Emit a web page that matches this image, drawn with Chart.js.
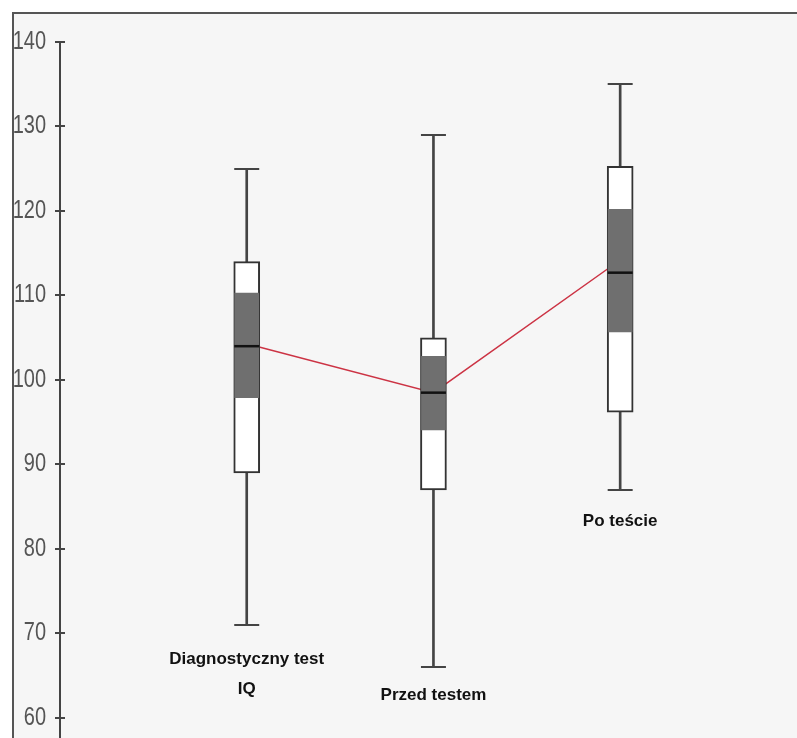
<!DOCTYPE html>
<html>
<head>
<meta charset="utf-8">
<script src="https://cdn.jsdelivr.net/npm/chart.js@4.4.0/dist/chart.umd.min.js"></script>
<style>
  html, body { margin: 0; padding: 0; background: #fff; }
  canvas { display: block; }
</style>
</head>
<body>
<canvas id="boxChart" width="797" height="738"></canvas>
<script>
const categories = [['Diagnostyczny test', 'IQ'], ['Przed testem'], ['Po teście']];
const positions = [1, 2, 3];
const whiskerLow = [71, 66, 87];
const boxLow = [89, 87, 96.2];
const shadeLow = [97.9, 94.1, 105.7];
const medians = [104, 98.5, 112.7];
const shadeHigh = [110.3, 102.8, 120.2];
const boxHigh = [114, 105, 125.3];
const whiskerHigh = [125, 129, 135];
const meanLine = [104.3, 98.5, 114.2];
const labelAt = [66.9, 62.7, 83.3];
const yTicks = [60, 70, 80, 90, 100, 110, 120, 130, 140];

const toXY = (lo, hi) => positions.map((p, i) => ({ x: p, y: [lo[i], hi[i]] }));

// frame, tick crosses + labels, whisker caps, medians and category labels
const boxPlotExtras = {
    id: 'boxPlotExtras',
    beforeDraw(chart) {
        const ctx = chart.ctx;
        ctx.save();
        ctx.fillStyle = '#ffffff';
        ctx.fillRect(0, 0, chart.width, chart.height);
        ctx.fillStyle = '#f6f6f6';
        ctx.fillRect(13, 13, chart.width - 13, chart.height - 13);
        ctx.strokeStyle = '#555';
        ctx.lineWidth = 2;
        ctx.beginPath();
        ctx.moveTo(13, chart.height);
        ctx.lineTo(13, 13);
        ctx.lineTo(chart.width, 13);
        ctx.stroke();
        ctx.restore();
    },
    afterDatasetsDraw(chart) {
        const ctx = chart.ctx;
        const x = chart.scales.x, y = chart.scales.y;
        ctx.save();
        ctx.strokeStyle = '#444';
        ctx.lineWidth = 2;
        y.ticks.forEach(t => {
            const py = Math.round(y.getPixelForValue(t.value));
            ctx.beginPath();
            ctx.moveTo(x.left - 5, py);
            ctx.lineTo(x.left + 5, py);
            ctx.stroke();
            // narrow grey tick labels
            ctx.save();
            ctx.fillStyle = '#555';
            ctx.font = '25px "Liberation Sans", Arial, sans-serif';
            ctx.textAlign = 'right';
            ctx.textBaseline = 'middle';
            ctx.translate(x.left - 14, py);
            ctx.scale(0.8, 1);
            ctx.fillText(String(t.value), 0, 0);
            ctx.restore();
        });
        positions.forEach((p, i) => {
            const px = x.getPixelForValue(p);
            const half = 12.5;
            ctx.strokeStyle = '#444';
            ctx.lineWidth = 2;
            [whiskerLow[i], whiskerHigh[i]].forEach(v => {
                const py = Math.round(y.getPixelForValue(v));
                ctx.beginPath();
                ctx.moveTo(px - half, py);
                ctx.lineTo(px + half, py);
                ctx.stroke();
            });
            ctx.strokeStyle = '#111';
            ctx.lineWidth = 2.5;
            const my = y.getPixelForValue(medians[i]);
            ctx.beginPath();
            ctx.moveTo(px - half, my);
            ctx.lineTo(px + half, my);
            ctx.stroke();

            ctx.fillStyle = '#111';
            ctx.font = 'bold 17px "Liberation Sans", Arial, sans-serif';
            ctx.textAlign = 'center';
            ctx.textBaseline = 'middle';
            const ly = y.getPixelForValue(labelAt[i]);
            categories[i].forEach((line, k) => ctx.fillText(line, px, ly + k * 30));
        });
        ctx.restore();
    }
};

new Chart(document.getElementById('boxChart'), {
    type: 'bar',
    data: {
        datasets: [
            {
                type: 'line',
                data: positions.map((p, i) => ({ x: p, y: meanLine[i] })),
                borderColor: '#cc3344',
                borderWidth: 1.5,
                pointRadius: 0,
                tension: 0,
                order: 10
            },
            {
                data: toXY(whiskerLow, whiskerHigh),
                backgroundColor: '#444',
                barThickness: 2,
                grouped: false,
                order: 5
            },
            {
                data: toXY(boxLow, boxHigh),
                backgroundColor: '#ffffff',
                borderColor: '#333',
                borderWidth: 2,
                borderSkipped: false,
                barThickness: 26,
                grouped: false,
                order: 3
            },
            {
                data: toXY(shadeLow, shadeHigh),
                backgroundColor: '#6f6f6f',
                barThickness: 24,
                grouped: false,
                order: 1
            }
        ]
    },
    options: {
        responsive: false,
        animation: false,
        layout: { padding: { top: 42, left: 0, right: 0, bottom: 0 } },
        plugins: { legend: { display: false }, tooltip: { enabled: false } },
        scales: {
            x: {
                type: 'linear',
                min: 0,
                max: 3.947,
                offset: false,
                display: false
            },
            y: {
                type: 'linear',
                min: 57.63,
                max: 140,
                afterFit(scale) {
                    scale.width = 60;
                    scale.paddingTop = 0;
                    scale.paddingBottom = 0;
                },
                afterBuildTicks(scale) { scale.ticks = yTicks.map(v => ({ value: v })); },
                ticks: { display: false },
                grid: { display: false, drawTicks: false },
                border: { display: true, color: '#444', width: 2 }
            }
        }
    },
    plugins: [boxPlotExtras]
});
</script>
</body>
</html>
